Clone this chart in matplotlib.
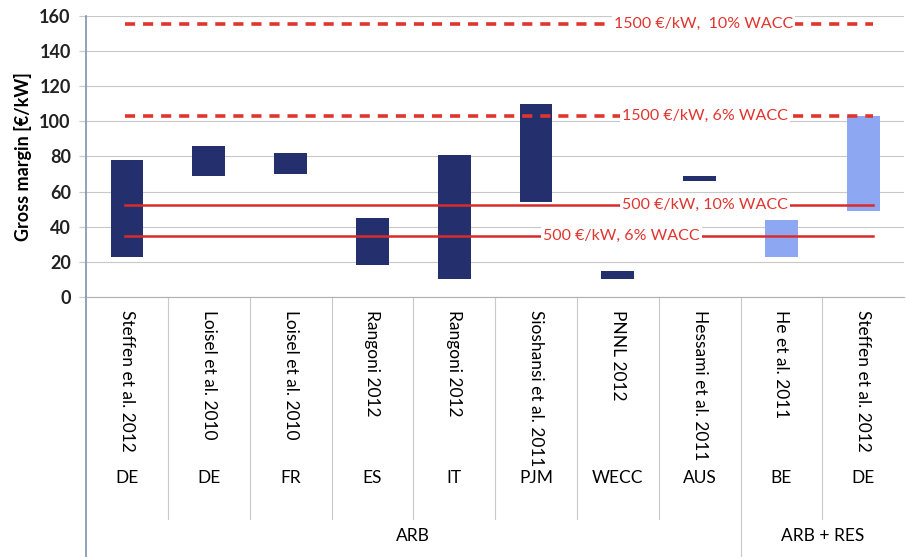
import matplotlib.pyplot as plt
import matplotlib.transforms as mtransforms
import numpy as np

plt.rcParams['font.family'] = ['Lato', 'DejaVu Sans']

# Data
studies = ['Steffen et al. 2012', 'Loisel et al. 2010', 'Loisel et al. 2010', 'Rangoni 2012',
           'Rangoni 2012', 'Sioshansi et al. 2011', 'PNNL 2012', 'Hessami et al. 2011',
           'He et al. 2011', 'Steffen et al. 2012']
regions = ['DE', 'DE', 'FR', 'ES', 'IT', 'PJM', 'WECC', 'AUS', 'BE', 'DE']
groups = ['ARB'] * 8 + ['ARB + RES'] * 2
low = [23, 69, 70, 18, 10, 54, 10, 66, 23, 49]
high = [78, 86, 82, 45, 81, 110, 15, 69, 44, 103]

ref_labels = ['1500 €/kW,  10% WACC', '1500 €/kW, 6% WACC', '500 €/kW, 10% WACC', '500 €/kW, 6% WACC']
ref_values = [155.5, 103, 52.5, 34.5]
ref_dashed = [True, True, False, False]
ref_label_x = [7.05, 7.07, 7.07, 6.04]

dark = '#24306e'
light = '#8ea7f2'
red = '#e0352f'

fig = plt.figure(figsize=(9.06, 5.57), dpi=100)
ax = fig.add_axes([0.095, 0.4668, 0.903, 0.505])

x = np.arange(len(studies))
colors = [dark if g == 'ARB' else light for g in groups]
ax.bar(x, np.array(high) - np.array(low), bottom=low, width=0.4, color=colors, zorder=3)

for val, dashed, lab, lx in zip(ref_values, ref_dashed, ref_labels, ref_label_x):
    if dashed:
        ax.plot([-0.02, 9.12], [val, val], color=red, lw=2.6, ls=(0, (2.8, 2.2)), zorder=4)
    else:
        ax.plot([-0.02, 9.12], [val, val], color='#d92b2b', lw=1.8, zorder=4)
    ax.text(lx, val, lab, color=red, fontsize=11.5, ha='center', va='center', zorder=5,
            bbox=dict(facecolor='white', edgecolor='none', pad=1.5))

ax.set_xlim(-0.5, 9.5)
ax.set_ylim(0, 160)
ax.set_yticks(np.arange(0, 161, 20))
ax.yaxis.grid(True, color='#c8c8c8', lw=0.8, zorder=0)
ax.set_axisbelow(True)
ax.tick_params(axis='y', labelsize=13, length=5, color='#c8c8c8', pad=6)
for t in ax.get_yticklabels():
    t.set_fontweight('bold')
    t.set_color('#222222')
ax.set_xticks([])
ax.set_ylabel('Gross margin [€/kW]', fontsize=13, fontweight='bold', labelpad=5)

for side in ['top', 'right']:
    ax.spines[side].set_visible(False)
ax.spines['bottom'].set_color('#b0b0b0')
ax.spines['left'].set_color('#7f8fb5')
ax.spines['left'].set_linewidth(1.2)

# table-like category axis below the plot
trans = mtransforms.blended_transform_factory(ax.transData, ax.transAxes)
for i in range(len(studies)):
    ax.text(i, -0.045, studies[i], rotation=270, ha='center', va='top', fontsize=12.5,
            transform=trans, clip_on=False)
    ax.text(i, -0.645, regions[i], ha='center', va='center', fontsize=12.5,
            transform=trans, clip_on=False)

for b in np.arange(0.5, 9.5, 1.0):
    bottom = -0.93 if b == 7.5 else -0.79
    ax.plot([b, b], [0, bottom], color='#c8c8c8', lw=0.8, transform=trans, clip_on=False)
ax.plot([-0.5, -0.5], [0, -0.93], color='#7f8fb5', lw=1.2, transform=trans, clip_on=False)

ax.text(3.5, -0.85, 'ARB', ha='center', va='center', fontsize=12.5, transform=trans, clip_on=False)
ax.text(8.5, -0.85, 'ARB + RES', ha='center', va='center', fontsize=12.5, transform=trans, clip_on=False)

fig.savefig('out.png', dpi=100)
